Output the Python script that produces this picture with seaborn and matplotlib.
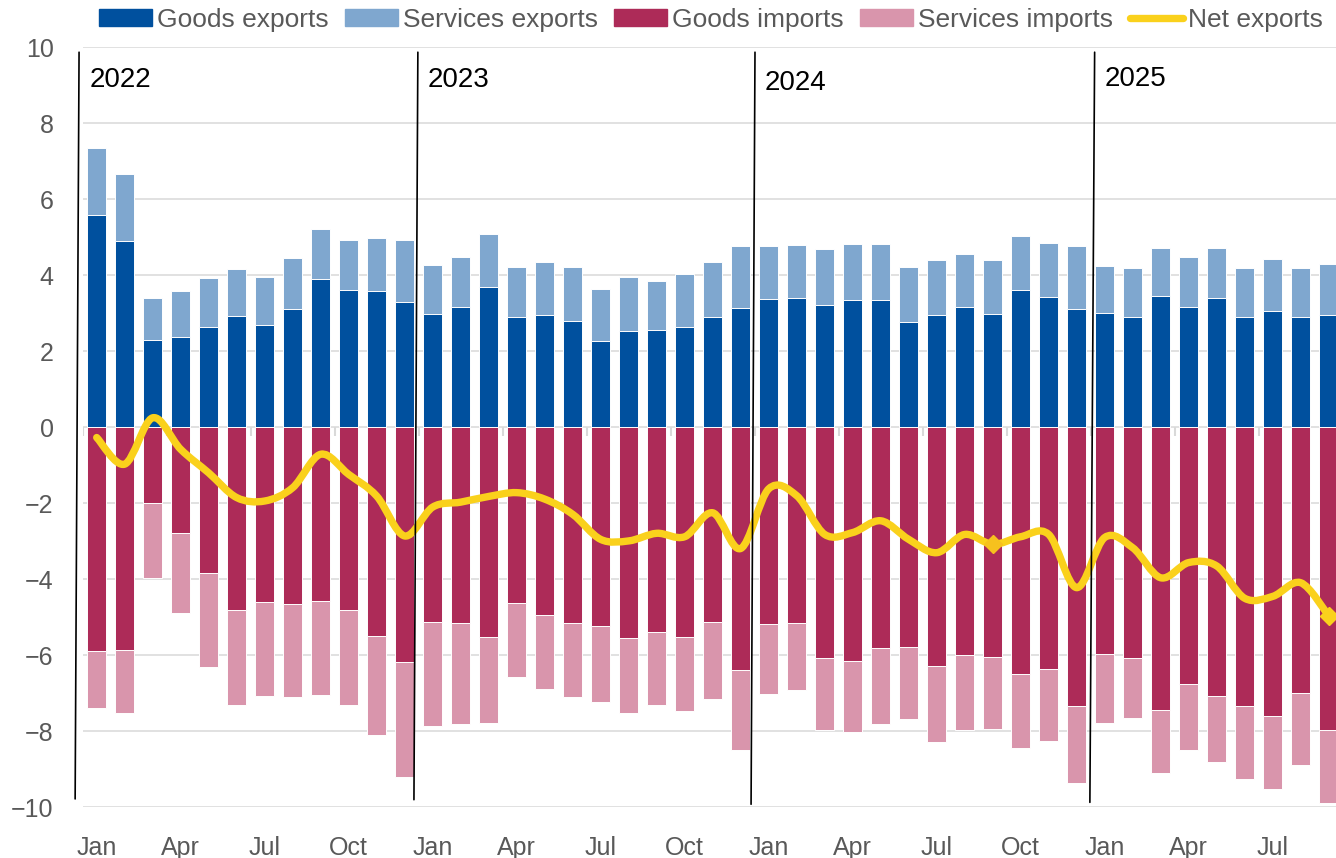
import matplotlib
matplotlib.use("Agg")
import matplotlib.pyplot as plt
from matplotlib.path import Path
from matplotlib.patches import PathPatch, Patch
from matplotlib.lines import Line2D
import seaborn as sns
import numpy as np
import pandas as pd

# monthly data, Jan 2022 - Sep 2025
years = [2022, 2023, 2024, 2025]
tick_months = ['Jan', 'Apr', 'Jul', 'Oct']

goods_exports = [5.58, 4.90, 2.30, 2.38, 2.63, 2.93, 2.68, 3.12, 3.89, 3.60, 3.59, 3.30,
                 2.97, 3.16, 3.68, 2.91, 2.96, 2.81, 2.27, 2.54, 2.57, 2.63, 2.89, 3.15,
                 3.38, 3.39, 3.23, 3.36, 3.36, 2.78, 2.96, 3.16, 2.99, 3.62, 3.44, 3.12,
                 3.02, 2.91, 3.46, 3.16, 3.41, 2.89, 3.07, 2.91, 2.96]
services_exports = [1.77, 1.77, 1.09, 1.21, 1.29, 1.24, 1.27, 1.33, 1.32, 1.32, 1.40, 1.64,
                    1.30, 1.33, 1.41, 1.31, 1.40, 1.41, 1.38, 1.42, 1.29, 1.41, 1.46, 1.61,
                    1.38, 1.41, 1.46, 1.46, 1.47, 1.43, 1.45, 1.41, 1.41, 1.42, 1.41, 1.65,
                    1.23, 1.27, 1.27, 1.31, 1.31, 1.29, 1.36, 1.28, 1.35]
goods_imports = [-5.89, -5.86, -1.98, -2.78, -3.84, -4.82, -4.60, -4.66, -4.58, -4.82, -5.49, -6.18,
                 -5.13, -5.16, -5.51, -4.63, -4.93, -5.16, -5.24, -5.55, -5.38, -5.53, -5.13, -6.38,
                 -5.18, -5.16, -6.08, -6.16, -5.82, -5.77, -6.29, -5.98, -6.04, -6.50, -6.37, -7.34,
                 -5.97, -6.08, -7.45, -6.76, -7.06, -7.34, -7.61, -7.00, -7.97]
services_imports = [-1.51, -1.67, -1.98, -2.11, -2.46, -2.50, -2.47, -2.45, -2.46, -2.49, -2.61, -3.02,
                    -2.72, -2.65, -2.28, -1.93, -1.97, -1.94, -1.98, -1.97, -1.94, -1.94, -2.01, -2.12,
                    -1.83, -1.76, -1.89, -1.86, -2.00, -1.90, -2.00, -1.99, -1.91, -1.94, -1.89, -2.02,
                    -1.82, -1.58, -1.66, -1.73, -1.75, -1.92, -1.91, -1.89, -1.91]
net_exports = [-0.27, -0.97, 0.25, -0.58, -1.20, -1.85, -1.94, -1.59, -0.71, -1.24, -1.81, -2.86,
               -2.10, -1.97, -1.82, -1.72, -1.89, -2.29, -2.95, -2.99, -2.79, -2.88, -2.25, -3.19,
               -1.62, -1.80, -2.82, -2.77, -2.46, -2.95, -3.30, -2.82, -3.08, -2.88, -2.82, -4.22,
               -2.90, -3.17, -3.96, -3.56, -3.65, -4.50, -4.45, -4.09, -4.96]

c_goods_exp = '#00509E'
c_serv_exp = '#7FA7CF'
c_goods_imp = '#AD2B58'
c_serv_imp = '#D995AC'
c_net = '#FAD11C'
c_text = '#595959'
c_grid = '#D9D9D9'

df = pd.DataFrame({
    'pos': np.arange(len(goods_exports)),
    'goods_exp': goods_exports,
    'serv_exp': services_exports,
    'goods_imp': goods_imports,
    'serv_imp': services_imports,
    'net': net_exports,
})
df['total_exp'] = df['goods_exp'] + df['serv_exp']
df['total_imp'] = df['goods_imp'] + df['serv_imp']

sns.set_theme(style='white')
plt.rcParams['font.family'] = ['Liberation Sans', 'DejaVu Sans']

fig = plt.figure(figsize=(13.36, 8.58), dpi=100)
ax = fig.add_axes([0.0619, 0.0591, 0.9381, 0.8858])

# stacked bars: draw totals, then goods on top of them
for col, color in [('total_exp', c_serv_exp), ('goods_exp', c_goods_exp),
                   ('total_imp', c_serv_imp), ('goods_imp', c_goods_imp)]:
    sns.barplot(data=df, x='pos', y=col, native_scale=True, width=0.667,
                color=color, saturation=1, edgecolor='white', linewidth=0.7,
                errorbar=None, ax=ax, zorder=2)

# smoothed net exports line (Bezier through the monthly points)
pts = df[['pos', 'net']].to_numpy(dtype=float)
padded = np.vstack([pts[0], pts, pts[-1]])
verts = [tuple(pts[0])]
codes = [Path.MOVETO]
for i in range(len(pts) - 1):
    p0, p1, p2, p3 = padded[i], padded[i + 1], padded[i + 2], padded[i + 3]
    verts += [tuple(p1 + (p2 - p0) / 6), tuple(p2 - (p3 - p1) / 6), tuple(p2)]
    codes += [Path.CURVE4] * 3
ax.add_patch(PathPatch(Path(verts, codes), fill=False, edgecolor=c_net, lw=5.3,
                       capstyle='round', joinstyle='round', zorder=4))
ax.plot(df['pos'].iloc[[32]], df['net'].iloc[[32]], marker='D', ms=9, color='#F6C11E',
        ls='none', zorder=5)
ax.plot(df['pos'].iloc[[-1]], df['net'].iloc[[-1]], marker='D', ms=9, color=c_net,
        ls='none', zorder=5)

ax.set_xlim(-0.5, 44.26)
ax.set_ylim(-10, 10)
ax.set_yticks(range(-10, 11, 2))
ax.set_xticks(range(0, 45, 3))
ax.set_xticklabels((tick_months * 4)[:15])
ax.set_xlabel('')
ax.set_ylabel('')
ax.yaxis.grid(True, color=c_grid, lw=1.1)
ax.set_axisbelow(True)
for s in ax.spines.values():
    s.set_visible(False)
ax.tick_params(axis='both', length=0, labelsize=18, labelcolor=c_text, pad=21)

# small ticks on the zero line between quarters
ax.vlines(np.arange(-0.5, 45, 3), -0.22, 0, colors=c_grid, lw=1.5, zorder=1)

# year separators (hand drawn, slightly leaning) and labels
lean = [(-0.13, -0.27), (-0.03, -0.17), (0.01, -0.13), (0.14, -0.03)]
bottoms = [-9.78, -9.8, -9.92, -9.87]
label_y = [9.13, 9.13, 9.05, 9.16]
for k, yr in enumerate(years):
    start = 12 * k - 0.5
    ax.plot([start + lean[k][0], start + lean[k][1]], [9.87, bottoms[k]],
            color='black', lw=1.2, clip_on=False, zorder=6)
    ax.text(start + lean[k][0] + 0.36, label_y[k], str(yr), fontsize=20, color='black',
            va='center', ha='left', zorder=6)

handles = [Patch(color=c_goods_exp), Patch(color=c_serv_exp), Patch(color=c_goods_imp),
           Patch(color=c_serv_imp), Line2D([], [], color=c_net, lw=5.3, solid_capstyle='round')]
labels = ['Goods exports', 'Services exports', 'Goods imports', 'Services imports', 'Net exports']
leg = fig.legend(handles, labels, loc='center', bbox_to_anchor=(0.532, 0.977), ncol=5,
                 frameon=False, fontsize=19, handlelength=2.0, handleheight=0.62,
                 handletextpad=0.2, columnspacing=0.62, borderpad=0, borderaxespad=0)
for t in leg.get_texts():
    t.set_color(c_text)

fig.savefig('out.png', dpi=100)
